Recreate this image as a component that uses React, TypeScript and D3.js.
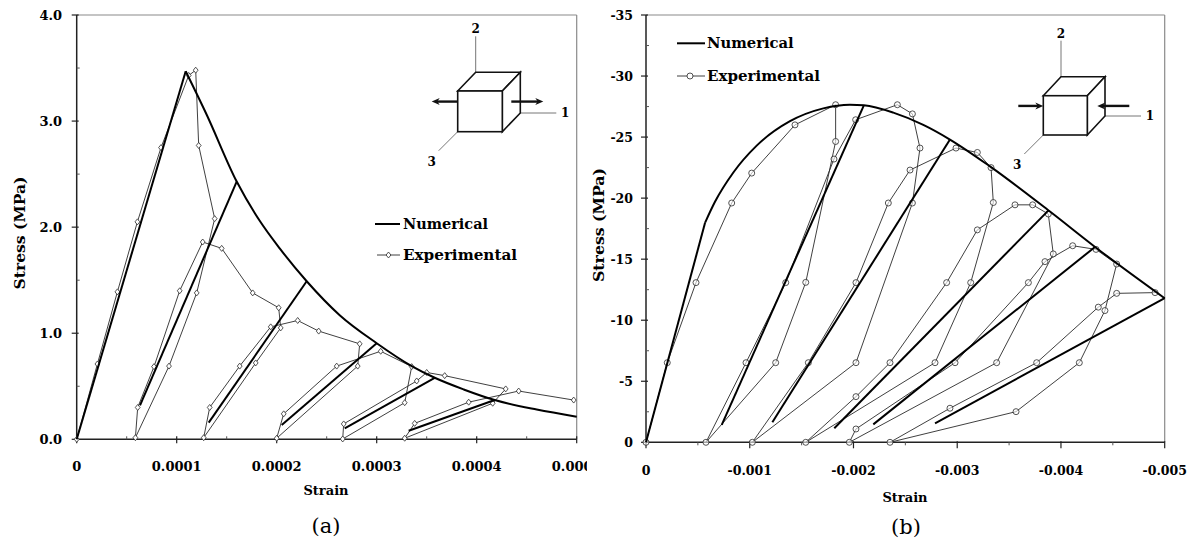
import React from 'react';
import * as d3 from 'd3';

// ---------- DATA ----------
const leftYTicks = [0, 1, 2, 3, 4];
const leftYTickLabels = ['0.0', '1.0', '2.0', '3.0', '4.0'];
const leftYMinor = [0.5, 1.5, 2.5, 3.5];
const leftXTicks = [0, 0.0001, 0.0002, 0.0003, 0.0004, 0.0005];
const leftXTickLabels = ['0', '0.0001', '0.0002', '0.0003', '0.0004', '0.0005'];
const leftXMinor = [0.00005, 0.00015, 0.00025, 0.00035, 0.00045];

const rightYTicks = [0, -5, -10, -15, -20, -25, -30, -35];
const rightYTickLabels = ['0', '-5', '-10', '-15', '-20', '-25', '-30', '-35'];
const rightYMinor = [-2.5, -7.5, -12.5, -17.5, -22.5, -27.5, -32.5];
const rightXTicks = [0, -0.001, -0.002, -0.003, -0.004, -0.005];
const rightXTickLabels = ['0', '-0.001', '-0.002', '-0.003', '-0.004', '-0.005'];
const rightXMinor = [-0.0005, -0.0015, -0.0025, -0.0035, -0.0045];

// (a) tension: numerical envelope [strain, stress MPa]; first segment is linear elastic
const leftNumEnvelope: [number, number][] = [
  [0, 0], [0.000109, 3.47], [0.00013, 3.06], [0.00016, 2.43], [0.000183, 2.06],
  [0.000203, 1.8], [0.00023, 1.49], [0.000263, 1.17], [0.0003, 0.906],
  [0.000335, 0.69], [0.000358, 0.58], [0.000387, 0.47], [0.000418, 0.37],
  [0.00046, 0.28], [0.0005, 0.213],
];
// (a) numerical unloading branches
const leftNumUnloading: [number, number][][] = [
  [[0.00016, 2.43], [0.0000633, 0.32]],
  [[0.00023, 1.49], [0.000132, 0.157]],
  [[0.0003, 0.906], [0.000205, 0.135]],
  [[0.000358, 0.58], [0.000268, 0.104]],
  [[0.000418, 0.37], [0.000332, 0.08]],
];
// (a) experimental
const leftExp: [number, number][] = [
  [0, 0], [0.0000207, 0.71], [0.0000407, 1.39], [0.0000607, 2.05], [0.0000843, 2.75],
  [0.000112, 3.43], [0.000119, 3.48], [0.000122, 2.77], [0.000138, 2.08], [0.00012, 1.38],
  [0.0000923, 0.69], [0.0000587, 0.015], [0.000061, 0.3], [0.0000773, 0.685], [0.000103, 1.4],
  [0.000126, 1.86], [0.000145, 1.8], [0.000176, 1.38], [0.000202, 1.24], [0.000204, 1.05],
  [0.000179, 0.72], [0.000127, 0.015], [0.000133, 0.3], [0.000163, 0.69], [0.000194, 1.06],
  [0.000221, 1.12], [0.000242, 1.02], [0.000283, 0.9], [0.000281, 0.69], [0.0002, 0.01],
  [0.000207, 0.24], [0.00026, 0.69], [0.000304, 0.83], [0.000335, 0.685], [0.000328, 0.345],
  [0.000266, 0.003], [0.000267, 0.145], [0.00034, 0.55], [0.00035, 0.63], [0.000368, 0.6],
  [0.000429, 0.475], [0.000416, 0.34], [0.000328, 0.01], [0.000338, 0.15], [0.000392, 0.35],
  [0.000442, 0.455], [0.000497, 0.37],
];

// (b) compression: numerical envelope; first segment is linear elastic
const rightNumEnvelope: [number, number][] = [
  [0, 0], [-0.00057, -18], [-0.000665, -19.7], [-0.000842, -22.1], [-0.001067, -24.3],
  [-0.001388, -26.3], [-0.001709, -27.35], [-0.001966, -27.65], [-0.0021, -27.6],
  [-0.002384, -27.0], [-0.002673, -26.0], [-0.00293, -24.8], [-0.003316, -22.6],
  [-0.003894, -18.9], [-0.004344, -15.9], [-0.005, -11.8],
];
const rightNumUnloading: [number, number][][] = [
  [[-0.0021, -27.6], [-0.00073, -1.42]],
  [[-0.00293, -24.8], [-0.001218, -1.64]],
  [[-0.00388, -19.0], [-0.001815, -1.15]],
  [[-0.004328, -16.0], [-0.002191, -1.47]],
  [[-0.005, -11.8], [-0.002786, -1.56]],
];
const rightExp: [number, number][] = [
  [0, 0], [-0.000205, -6.52], [-0.000482, -13.08], [-0.000826, -19.6], [-0.001019, -22.05],
  [-0.001436, -26.0], [-0.001828, -27.65], [-0.001828, -24.64], [-0.00154, -13.1],
  [-0.00125, -6.52], [-0.000578, 0], [-0.000964, -6.52], [-0.001347, -13.08],
  [-0.001812, -23.2], [-0.002021, -26.42], [-0.002423, -27.65], [-0.002568, -26.9],
  [-0.002641, -24.1], [-0.002568, -19.6], [-0.002024, -6.52], [-0.001025, 0],
  [-0.001565, -6.52], [-0.002024, -13.08], [-0.002336, -19.6], [-0.002545, -22.3],
  [-0.002988, -24.1], [-0.003194, -23.74], [-0.003326, -22.5], [-0.003348, -19.64],
  [-0.00313, -13.08], [-0.002786, -6.52], [-0.00154, 0], [-0.002024, -3.74],
  [-0.002352, -6.52], [-0.002898, -13.08], [-0.003194, -17.4], [-0.003557, -19.45],
  [-0.003727, -19.45], [-0.003878, -18.7], [-0.003926, -15.43], [-0.00338, -6.52],
  [-0.00196, 0], [-0.002024, -1.09], [-0.002979, -6.52], [-0.003686, -13.08],
  [-0.003846, -14.8], [-0.004113, -16.1], [-0.004338, -15.8], [-0.004537, -14.6],
  [-0.004424, -10.79], [-0.004177, -6.52], [-0.003567, -2.51], [-0.002352, 0],
  [-0.00293, -2.79], [-0.003766, -6.52], [-0.00436, -11.07], [-0.004537, -12.2],
  [-0.004907, -12.26],
];

// ---------- STYLE ----------
const SERIF = '"DejaVu Serif", "Liberation Serif", serif';
const EXP_COLOR = '#2a2a2a';
const FRAME_GRAY = '#8a8a8a';

type Sc = d3.ScaleLinear<number, number>;

function Arrow({ x1, x2, y }: { x1: number; x2: number; y: number }) {
  const dir = x2 > x1 ? 1 : -1;
  const hl = 8;
  const hw = 3.5;
  return (
    <g>
      <line x1={x1} y1={y} x2={x2 - dir * hl * 0.6} y2={y} stroke="#111" strokeWidth={2.4} />
      <path d={`M${x2},${y} L${x2 - dir * hl},${y - hw} L${x2 - dir * hl * 0.7},${y} L${x2 - dir * hl},${y + hw} Z`} fill="#111" />
    </g>
  );
}

function Cube({ x, y, w, h, dx, dy, tension }: { x: number; y: number; w: number; h: number; dx: number; dy: number; tension: boolean }) {
  const ay = y + h * 0.26;
  return (
    <g>
      <line x1={x + dx} y1={y + dy} x2={x + dx} y2={y + dy - 36} stroke="#666" strokeWidth={0.9} />
      <text x={x + dx} y={y + dy - 43} textAnchor="middle" dominantBaseline="central" fontFamily={SERIF} fontWeight="bold" fontSize={12}>2</text>
      <line x1={x + w + dx} y1={y + h + dy} x2={x + w + dx + 36} y2={y + h + dy} stroke="#666" strokeWidth={0.9} />
      <text x={x + w + dx + 45} y={y + h + dy} textAnchor="middle" dominantBaseline="central" fontFamily={SERIF} fontWeight="bold" fontSize={12}>1</text>
      <line x1={x} y1={y + h} x2={x - 19} y2={y + h + 19} stroke="#666" strokeWidth={0.9} />
      <text x={x - 26} y={y + h + 30} textAnchor="middle" dominantBaseline="central" fontFamily={SERIF} fontWeight="bold" fontSize={12}>3</text>
      <g fill="white" stroke="#111" strokeWidth={1.6} strokeLinejoin="miter">
        <path d={`M${x},${y} L${x + dx},${y + dy} L${x + w + dx},${y + dy} L${x + w},${y} Z`} />
        <path d={`M${x + w},${y} L${x + w + dx},${y + dy} L${x + w + dx},${y + h + dy} L${x + w},${y + h} Z`} />
        <rect x={x} y={y} width={w} height={h} />
      </g>
      {tension ? (
        <g>
          <Arrow x1={x} x2={x - 26} y={ay} />
          <Arrow x1={x + w + 9} x2={x + w + 41} y={ay} />
        </g>
      ) : (
        <g>
          <Arrow x1={x - 25} x2={x} y={ay} />
          <Arrow x1={x + w + 42} x2={x + w + 10} y={ay} />
        </g>
      )}
    </g>
  );
}

function Axes({ x, y, xTicks, xLabels, xMinor, yTicks, yLabels, yMinor, fs, xLabelY, yLabelX, xTickDown }: {
  x: Sc; y: Sc; xTicks: number[]; xLabels: string[]; xMinor: number[]; yTicks: number[]; yLabels: string[]; yMinor: number[];
  fs: number; xLabelY: number; yLabelX: number; xTickDown: boolean;
}) {
  const [x0, x1] = x.range();
  const [y0, y1] = y.range();
  return (
    <g>
      <line x1={x0} y1={y1} x2={x1} y2={y1} stroke={FRAME_GRAY} strokeWidth={1.2} />
      <line x1={x1} y1={y1} x2={x1} y2={y0} stroke={FRAME_GRAY} strokeWidth={1.2} />
      <line x1={x0} y1={y0} x2={x1} y2={y0} stroke="#222" strokeWidth={1.5} />
      <line x1={x0} y1={y0} x2={x0} y2={y1} stroke="#222" strokeWidth={1.5} />
      {yTicks.map((t, i) => (
        <g key={'yt' + i}>
          <line x1={x0 - 5} x2={x0 + 2} y1={y(t)} y2={y(t)} stroke="#222" strokeWidth={1.2} />
          <text x={yLabelX} y={y(t)} textAnchor="end" dominantBaseline="central" fontFamily={SERIF} fontWeight="bold" fontSize={fs}>{yLabels[i]}</text>
        </g>
      ))}
      {yMinor.map((t, i) => (
        <line key={'ym' + i} x1={x0} x2={x0 + 3} y1={y(t)} y2={y(t)} stroke="#555" strokeWidth={1} />
      ))}
      {xTicks.map((t, i) => (
        <g key={'xt' + i}>
          <line x1={x(t)} x2={x(t)} y1={xTickDown ? y0 - 1 : y0 - 3} y2={xTickDown ? y0 + 6 : y0 + 4} stroke="#222" strokeWidth={1.2} />
          <text x={x(t)} y={xLabelY} textAnchor="middle" dominantBaseline="central" fontFamily={SERIF} fontWeight="bold" fontSize={fs}>{xLabels[i]}</text>
        </g>
      ))}
      {xMinor.map((t, i) => (
        <line key={'xm' + i} x1={x(t)} x2={x(t)} y1={xTickDown ? y0 : y0 - 3} y2={xTickDown ? y0 + 3 : y0} stroke="#555" strokeWidth={1} />
      ))}
    </g>
  );
}

const diamond = 'M0,-3 L2.4,0 L0,3 L-2.4,0 Z';

export default function App() {
  // panel (a)
  const xa = d3.scaleLinear().domain([0, 0.0005]).range([76.7, 576.7]);
  const ya = d3.scaleLinear().domain([0, 4]).range([439.3, 15]);
  const la = d3.line<[number, number]>().x((d) => xa(d[0])).y((d) => ya(d[1]));
  const laCurve = d3.line<[number, number]>().x((d) => xa(d[0])).y((d) => ya(d[1])).curve(d3.curveMonotoneX);
  // panel (b)
  const xb = d3.scaleLinear().domain([0, -0.005]).range([646, 1164.7]);
  const yb = d3.scaleLinear().domain([0, -35]).range([442.3, 15]);
  const lb = d3.line<[number, number]>().x((d) => xb(d[0])).y((d) => yb(d[1]));
  const lbCurve = d3.line<[number, number]>().x((d) => xb(d[0])).y((d) => yb(d[1])).curve(d3.curveMonotoneX);

  return (
    <svg width={1197} height={549} style={{ position: 'absolute', left: 0, top: 0, display: 'block', background: 'white' }}>
      <rect x={0} y={0} width={1197} height={549} fill="white" />
      <defs>
        <clipPath id="clipA"><rect x={0} y={0} width={587} height={549} /></clipPath>
      </defs>

      {/* ---------- panel (a) ---------- */}
      <g clipPath="url(#clipA)">
        <Axes x={xa} y={ya} xTicks={leftXTicks} xLabels={leftXTickLabels} xMinor={leftXMinor}
          yTicks={leftYTicks} yLabels={leftYTickLabels} yMinor={leftYMinor} fs={13} xLabelY={466} yLabelX={62} xTickDown={false} />
        <path d={la(leftExp) || ''} fill="none" stroke={EXP_COLOR} strokeWidth={0.9} />
        {leftExp.map((d, i) => (
          <path key={'da' + i} d={diamond} transform={`translate(${xa(d[0])},${ya(d[1])})`} fill="white" stroke={EXP_COLOR} strokeWidth={0.8} />
        ))}
        <path d={la(leftNumEnvelope.slice(0, 2)) || ''} fill="none" stroke="#000" strokeWidth={2} />
        <path d={laCurve(leftNumEnvelope.slice(1)) || ''} fill="none" stroke="#000" strokeWidth={2} strokeLinejoin="round" />
        {leftNumUnloading.map((seg, i) => (
          <path key={'ua' + i} d={la(seg) || ''} fill="none" stroke="#000" strokeWidth={2} />
        ))}
      </g>
      <text transform="translate(19,233) rotate(-90)" textAnchor="middle" dominantBaseline="central" fontFamily={SERIF} fontWeight="bold" fontSize={14.5} textLength={113} lengthAdjust="spacingAndGlyphs">Stress (MPa)</text>
      <text x={326} y={490} textAnchor="middle" dominantBaseline="central" fontFamily={SERIF} fontWeight="bold" fontSize={13}>Strain</text>
      <text x={326} y={526} textAnchor="middle" dominantBaseline="central" fontFamily={SERIF} fontSize={21}>(a)</text>
      {/* legend (a) */}
      <line x1={375} x2={400} y1={224} y2={224} stroke="#000" strokeWidth={2} />
      <text x={403} y={224} dominantBaseline="central" fontFamily={SERIF} fontWeight="bold" fontSize={15} textLength={85} lengthAdjust="spacingAndGlyphs">Numerical</text>
      <line x1={377} x2={400} y1={255} y2={255} stroke={EXP_COLOR} strokeWidth={0.9} />
      <path d={diamond} transform="translate(388.5,255)" fill="white" stroke={EXP_COLOR} strokeWidth={0.8} />
      <text x={403} y={255} dominantBaseline="central" fontFamily={SERIF} fontWeight="bold" fontSize={15} textLength={114} lengthAdjust="spacingAndGlyphs">Experimental</text>
      <Cube x={457.7} y={91} w={44.6} h={40.7} dx={18} dy={-18.7} tension={true} />

      {/* ---------- panel (b) ---------- */}
      <Axes x={xb} y={yb} xTicks={rightXTicks} xLabels={rightXTickLabels} xMinor={rightXMinor}
        yTicks={rightYTicks} yLabels={rightYTickLabels} yMinor={rightYMinor} fs={12.5} xLabelY={470} yLabelX={633} xTickDown={true} />
      <path d={lb(rightExp) || ''} fill="none" stroke={EXP_COLOR} strokeWidth={0.9} />
      {rightExp.map((d, i) => (
        <circle key={'cb' + i} cx={xb(d[0])} cy={yb(d[1])} r={3} fill="white" fillOpacity={0.6} stroke={EXP_COLOR} strokeWidth={0.8} />
      ))}
      <path d={lb(rightNumEnvelope.slice(0, 2)) || ''} fill="none" stroke="#000" strokeWidth={2} />
      <path d={lbCurve(rightNumEnvelope.slice(1)) || ''} fill="none" stroke="#000" strokeWidth={2} strokeLinejoin="round" />
      {rightNumUnloading.map((seg, i) => (
        <path key={'ub' + i} d={lb(seg) || ''} fill="none" stroke="#000" strokeWidth={2} />
      ))}
      <text transform="translate(598,225) rotate(-90)" textAnchor="middle" dominantBaseline="central" fontFamily={SERIF} fontWeight="bold" fontSize={14.5} textLength={114} lengthAdjust="spacingAndGlyphs">Stress (MPa)</text>
      <text x={905} y={497} textAnchor="middle" dominantBaseline="central" fontFamily={SERIF} fontWeight="bold" fontSize={13}>Strain</text>
      <text x={906} y={527} textAnchor="middle" dominantBaseline="central" fontFamily={SERIF} fontSize={21}>(b)</text>
      {/* legend (b) */}
      <line x1={677} x2={705} y1={43.3} y2={43.3} stroke="#000" strokeWidth={2} />
      <text x={707} y={43.3} dominantBaseline="central" fontFamily={SERIF} fontWeight="bold" fontSize={15} textLength={86.6} lengthAdjust="spacingAndGlyphs">Numerical</text>
      <line x1={677} x2={705} y1={76} y2={76} stroke={EXP_COLOR} strokeWidth={0.9} />
      <circle cx={690} cy={76} r={3} fill="white" stroke={EXP_COLOR} strokeWidth={0.8} />
      <text x={707} y={76} dominantBaseline="central" fontFamily={SERIF} fontWeight="bold" fontSize={15} textLength={113} lengthAdjust="spacingAndGlyphs">Experimental</text>
      <Cube x={1043.3} y={95.7} w={44} h={39.3} dx={17.7} dy={-19} tension={false} />
    </svg>
  );
}
